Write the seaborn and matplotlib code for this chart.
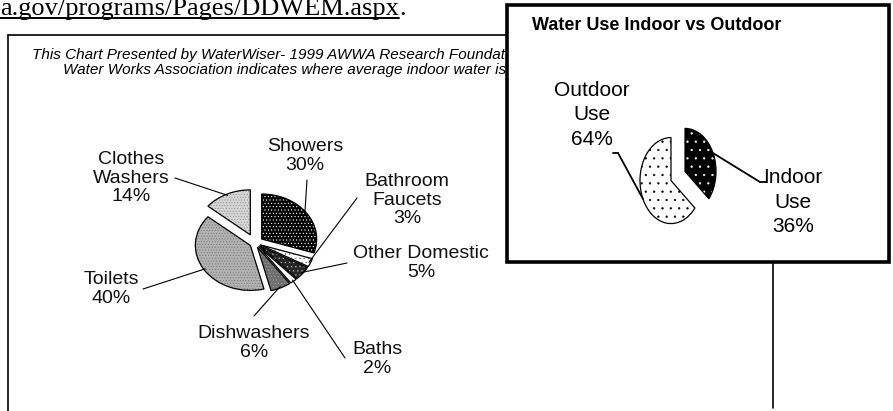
import matplotlib
matplotlib.use('Agg')
import matplotlib.pyplot as plt
import seaborn as sns
import numpy as np
from matplotlib.patches import Rectangle, Wedge
from matplotlib.lines import Line2D

sns.set_theme(style='white')
plt.rcParams['font.family'] = ['Liberation Sans', 'DejaVu Sans']
plt.rcParams['hatch.linewidth'] = 0.4

# ---------------- data ----------------
uses = ['Showers', 'Bathroom\nFaucets', 'Other Domestic', 'Baths',
        'Dishwashers', 'Toilets', 'Clothes\nWashers']
shares = [30, 3, 5, 2, 6, 40, 14]
inset_uses = ['Indoor\nUse', 'Outdoor\nUse']
inset_shares = [36, 64]
inset_title = 'Water Use Indoor vs Outdoor'
url_text = 'a.gov/programs/Pages/DDWEM.aspx'
caption_lines = ['This Chart Presented by WaterWiser- 1999 AWWA Research Foundation and American',
                 'Water Works Association indicates where average indoor water is used.']

# ---------------- styling ----------------
main_faces = ['black', 'white', '#262626', 'white', '#6e6e6e', '#b2b2b2', '#d6d6d6']
main_hatch = ['.....', '....', '....', '', '.....', '......', '......']
main_hcol = ['white', '#666666', '#bbbbbb', 'black', '#a0a0a0', '#777777', '#8c8c8c']
main_explode = [0.15, 0.1, 0.1, 0.1, 0.1, 0.1, 0.2]
inset_faces = ['black', 'white']
inset_hatch = ['..', '..']
inset_hcol = ['white', 'black']

W, H = 893, 411
fig = plt.figure(figsize=(W / 100, H / 100), dpi=100)
fig.patch.set_facecolor('white')


def fx(x):
    return x / W


def fy(y):
    return 1 - y / H


def pie_axes(box, center, rx, ry, zorder=0):
    l, t, r, b = box
    ax = fig.add_axes([fx(l), fy(b), (r - l) / W, (b - t) / H])
    ax.set_zorder(zorder)
    xl = (-(center[0] - l) / rx, (r - center[0]) / rx)
    yl = (-(b - center[1]) / ry, (center[1] - t) / ry)
    return ax, xl, yl


def draw_pie(ax, xl, yl, values, faces, hatches, hcols, explode):
    wedges, _ = ax.pie(values, startangle=90, counterclock=False, explode=explode,
                       colors=faces, wedgeprops=dict(linewidth=0))
    for w, h, hc in zip(wedges, hatches, hcols):
        w.set_hatch(h)
        w.set_edgecolor(hc)
        ax.add_patch(Wedge(w.center, w.r, w.theta1, w.theta2, fill=False,
                           ec='black', lw=0.9, zorder=w.get_zorder() + 0.1))
    ax.set_aspect('auto')
    ax.set_xlim(*xl)
    ax.set_ylim(*yl)
    ax.axis('off')
    return wedges


def wedge_point(w, f=0.97):
    a = np.deg2rad((w.theta1 + w.theta2) / 2)
    return (w.center[0] + f * w.r * np.cos(a), w.center[1] + f * w.r * np.sin(a))


# ---------------- frame lines of the main chart ----------------
for xs, ys in [((8, 8), (35, 411)), ((8, 507), (35, 35)), ((773, 773), (262, 408))]:
    fig.add_artist(Line2D([fx(x) for x in xs], [fy(y) for y in ys],
                          color='black', lw=1.2, zorder=2))

# ---------------- url text (top clipped by the image edge, as in the source) ----------------
t_url = fig.text(fx(0), fy(15), url_text, family=['Liberation Serif', 'DejaVu Serif'],
                 fontsize=19, color='black', ha='left', va='baseline')
fig.canvas.draw()
ext = t_url.get_window_extent(fig.canvas.get_renderer())
fig.add_artist(Line2D([fx(0), ext.x1 / W], [fy(18.5), fy(18.5)], color='black', lw=1.4))
fig.text(ext.x1 / W, fy(15), '.', family=['Liberation Serif', 'DejaVu Serif'],
         fontsize=19, color='black', ha='left', va='baseline')

# ---------------- caption ----------------
fig.text(fx(32), fy(55), caption_lines[0], fontsize=11, style='italic',
         ha='left', va='center', color='black', zorder=3)
fig.text(fx(63), fy(70), caption_lines[1], fontsize=11, style='italic',
         ha='left', va='center', color='black', zorder=3)

# ---------------- main pie ----------------
ax, xl, yl = pie_axes((40, 120, 500, 400), (255, 243), 55, 45, zorder=1)
wedges = draw_pie(ax, xl, yl, shares, main_faces, main_hatch, main_hcol, main_explode)

label_pos = [(305, 156), (407, 200), (421, 263), (377, 359), (254, 343), (111, 289), (131, 178)]
line_start = [(307, 180), (357, 198), (347, 263), (345, 358), (254, 316), (143, 289), (175, 178)]
for w, name, val, (tx, ty), (sx, sy) in zip(wedges, uses, shares, label_pos, line_start):
    fig.text(fx(tx), fy(ty), f'{name}\n{val}%', fontsize=14, ha='center', va='center',
             linespacing=1.1, color='#111111', zorder=3)
    ax.annotate('', xy=wedge_point(w), xycoords='data', xytext=(sx, H - sy),
                textcoords='figure pixels', annotation_clip=False,
                arrowprops=dict(arrowstyle='-', color='black', lw=0.8,
                                shrinkA=0, shrinkB=0))

# ---------------- inset ----------------
fig.add_artist(Rectangle((fx(507), fy(262)), (889 - 507) / W, (262 - 5) / H,
                         facecolor='white', edgecolor='black', lw=2.6, zorder=5))
narrow = ['Liberation Sans Narrow', 'Liberation Sans', 'DejaVu Sans']
fig.text(fx(532), fy(25), inset_title, family=narrow, fontsize=13, fontweight='bold',
         ha='left', va='center', color='black', zorder=6)

iax, ixl, iyl = pie_axes((520, 40, 880, 255), (678, 176), 31, 43, zorder=6)
iw = draw_pie(iax, ixl, iyl, inset_shares, inset_faces, inset_hatch, inset_hcol, [0.25, 0.25])

inset_label_pos = [(793, 202), (592, 115)]
inset_paths = [[(766, 182), (760, 182)], [(613, 153), (618, 153)]]
for w, name, val, (tx, ty), path in zip(iw, inset_uses, inset_shares, inset_label_pos, inset_paths):
    fig.text(fx(tx), fy(ty), f'{name}\n{val}%', family=narrow, fontsize=15,
             ha='center', va='center', linespacing=1.35, color='black', zorder=7)
    iax.add_artist(Line2D([fx(path[0][0]), fx(path[1][0])], [fy(path[0][1]), fy(path[1][1])],
                          transform=fig.transFigure, color='black', lw=1.3, clip_on=False))
    iax.annotate('', xy=wedge_point(w, 1.0), xycoords='data', xytext=(path[1][0], H - path[1][1]),
                 textcoords='figure pixels', annotation_clip=False,
                 arrowprops=dict(arrowstyle='-', color='black', lw=1.3, shrinkA=0, shrinkB=0))

fig.savefig('out.png', dpi=100, facecolor='white')
